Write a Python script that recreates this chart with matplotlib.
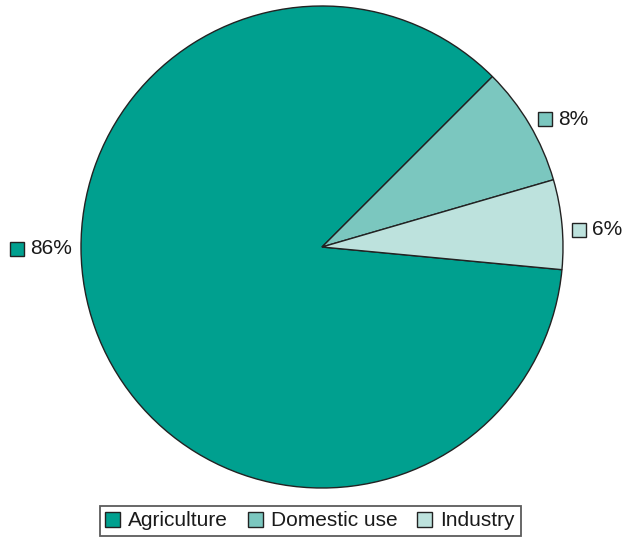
import matplotlib
matplotlib.use("Agg")
import matplotlib.pyplot as plt
from matplotlib.patches import Patch

plt.rcParams["font.family"] = ["Liberation Sans", "DejaVu Sans"]

# data
categories = ["Agriculture", "Domestic use", "Industry"]
shares = [86, 8, 6]
colors = ["#00a08f", "#7bc7bf", "#bde2dd"]
edge = "#222222"

fig = plt.figure(figsize=(6.26, 5.42), dpi=100)
ax = fig.add_axes([81 / 626, 54 / 542, 482 / 626, 482 / 542])

wedges, _ = ax.pie(shares, colors=colors, startangle=-5.4, counterclock=False,
                   radius=1.0, wedgeprops=dict(edgecolor=edge, linewidth=1.0))
ax.set_xlim(-1, 1)
ax.set_ylim(-1, 1)
ax.set_aspect("equal")
ax.axis("off")

# label anchors (marker position) in axes data units
label_pos = [(-1.266, -0.008), (0.925, 0.531), (1.066, 0.071)]
for (x, y), val, c in zip(label_pos, shares, colors):
    ax.plot(x, y, marker="s", markersize=10, markerfacecolor=c,
            markeredgecolor=edge, markeredgewidth=1.0, clip_on=False)
    ax.text(x + 0.055, y, f"{val}%", fontsize=15, color="#1a1a1a",
            ha="left", va="center", clip_on=False)

handles = [Patch(facecolor=c, edgecolor=edge, linewidth=1.0) for c in colors]
leg = fig.legend(handles, categories, loc="center", bbox_to_anchor=(310 / 626, 1 - 521 / 542),
                 ncol=3, fontsize=15, frameon=True, fancybox=False,
                 handlelength=0.7, handleheight=0.7, handletextpad=0.4,
                 columnspacing=0.95, borderpad=0.28, labelcolor="#1a1a1a")
leg.get_frame().set_edgecolor("#333333")
leg.get_frame().set_linewidth(1.3)

fig.savefig("out.png", dpi=100)
